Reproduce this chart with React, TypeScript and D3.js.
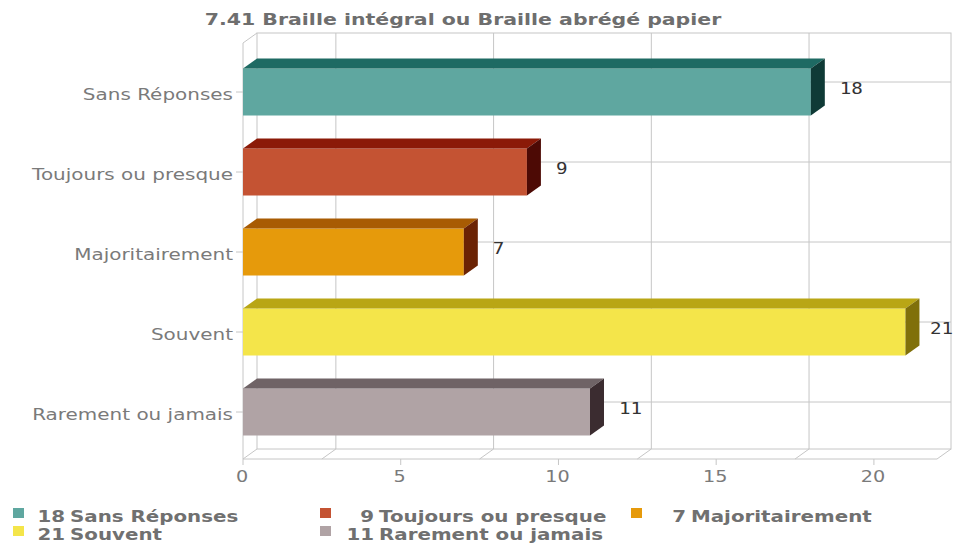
import { useEffect, useRef } from 'react';
import * as d3 from 'd3';

const title = '7.41 Braille intégral ou Braille abrégé papier';
const categories = ['Sans Réponses', 'Toujours ou presque', 'Majoritairement', 'Souvent', 'Rarement ou jamais'];
const values = [18, 9, 7, 21, 11];
const frontColors = ['#5fa7a0', '#c45333', '#e69a0b', '#f4e54a', '#b0a3a5'];
const topColors = ['#1e6a63', '#8b1a08', '#a85b03', '#b9a615', '#6f6366'];
const sideColors = ['#0f3a36', '#4d0a05', '#6b2304', '#80700a', '#3b2c30'];
const xTicks = [0, 5, 10, 15, 20];
const xGrid = [2.5, 7.5, 12.5, 17.5];

const App = () => {
  const svgRef = useRef<SVGSVGElement>(null);

  useEffect(() => {
    const svg = d3.select(svgRef.current);
    svg.selectAll('*').remove();

    const dx = 14;
    const dy = 10;
    const sx = 1.28; // text looks horizontally stretched
    const top = 43;
    const bottom = 459;
    const grid = '#c6c6c6';

    const x = d3.scaleLinear().domain([0, 22]).range([243, 937]);
    const y = d3.scaleBand<string>()
      .domain(categories)
      .range([52, 452])
      .paddingInner(0.4125)
      .paddingOuter(0.20625);
    const bw = y.bandwidth();
    const left = x(0);
    const right = x(22);

    const text = (g, px, py, str, opts) => {
      const t = g.append('text')
        .attr('transform', `translate(${px},${py}) scale(${sx},1)`)
        .attr('text-anchor', opts.anchor || 'start')
        .attr('font-family', opts.family || 'DejaVu Sans, Verdana, sans-serif')
        .attr('font-size', opts.size)
        .attr('font-weight', opts.weight || 'normal')
        .attr('fill', opts.fill)
        .style('white-space', 'pre')
        .text(str);
      return t;
    };

    // title
    text(svg, 463, 25, title, { anchor: 'middle', size: 16, weight: 'bold', fill: '#6e6e6e' });

    const g = svg.append('g');

    // back wall
    g.append('rect')
      .attr('x', left + dx).attr('y', top - dy)
      .attr('width', right - left).attr('height', bottom - top)
      .attr('fill', '#fff').attr('stroke', grid);

    g.selectAll('.vgrid').data(xGrid).join('line')
      .attr('x1', d => x(d) + dx).attr('x2', d => x(d) + dx)
      .attr('y1', top - dy).attr('y2', bottom - dy)
      .attr('stroke', grid);

    g.selectAll('.hgrid').data(categories).join('line')
      .attr('x1', left + dx).attr('x2', right + dx)
      .attr('y1', d => y(d) + bw / 2 - dy).attr('y2', d => y(d) + bw / 2 - dy)
      .attr('stroke', grid);

    // floor
    g.selectAll('.floor').data([0, ...xGrid, 22]).join('line')
      .attr('x1', d => x(d)).attr('x2', d => x(d) + dx)
      .attr('y1', bottom).attr('y2', bottom - dy)
      .attr('stroke', grid);

    g.append('line').attr('x1', left).attr('x2', right).attr('y1', bottom).attr('y2', bottom).attr('stroke', grid);
    g.append('line').attr('x1', left).attr('x2', left).attr('y1', top).attr('y2', bottom).attr('stroke', grid);
    g.append('line').attr('x1', left).attr('x2', left + dx).attr('y1', top).attr('y2', top - dy).attr('stroke', grid);

    // ticks
    g.selectAll('.ytick').data(categories).join('line')
      .attr('x1', left - 7).attr('x2', left)
      .attr('y1', d => y(d) + bw / 2).attr('y2', d => y(d) + bw / 2)
      .attr('stroke', grid);
    g.selectAll('.xtick').data(xTicks).join('line')
      .attr('x1', d => x(d)).attr('x2', d => x(d))
      .attr('y1', bottom).attr('y2', bottom + 6)
      .attr('stroke', grid);

    // bars
    categories.forEach((c, i) => {
      const y0 = y(c);
      const xe = x(values[i]);
      g.append('rect')
        .attr('x', left).attr('y', y0)
        .attr('width', xe - left).attr('height', bw)
        .attr('fill', frontColors[i]);
      g.append('polygon')
        .attr('points', [[left, y0], [left + dx, y0 - dy], [xe + dx, y0 - dy], [xe, y0]].join(' '))
        .attr('fill', topColors[i]);
      g.append('polygon')
        .attr('points', [[xe, y0], [xe + dx, y0 - dy], [xe + dx, y0 + bw - dy], [xe, y0 + bw]].join(' '))
        .attr('fill', sideColors[i]);
      // keep the label inside the picture
      const lx = Math.min(xe + dx + 15, 930);
      text(g, lx, y0 + bw / 2 + 2, String(values[i]), {
        size: 15, family: 'DejaVu Sans Mono, monospace', fill: '#333',
      });
      text(g, left - 10, y0 + bw / 2 + 7.5, c, { anchor: 'end', size: 15.6, fill: '#7a7a7a' });
    });

    xTicks.forEach(t => {
      text(g, x(t) - 1, 482, String(t), { anchor: 'middle', size: 15, fill: '#7a7a7a' });
    });

    // legend
    const colX = [13, 320, 631];
    const textX = [43, 352, 664];
    const rowY = [508, 526];
    categories.forEach((c, i) => {
      const col = i % 3;
      const row = Math.floor(i / 3);
      svg.append('rect')
        .attr('x', colX[col]).attr('y', rowY[row])
        .attr('width', 11).attr('height', 10)
        .attr('fill', frontColors[i]);
      text(svg, textX[col] + 22, rowY[row] + 14, String(values[i]), {
        anchor: 'end', size: 15.5, weight: 'bold', fill: '#707070',
      });
      text(svg, textX[col] + 27, rowY[row] + 14, c, { size: 15.5, weight: 'bold', fill: '#707070' });
    });
  }, []);

  return (
    <svg
      ref={svgRef}
      width={954}
      height={545}
      viewBox="0 0 954 545"
      style={{ position: 'absolute', left: 0, top: 0, background: '#fff' }}
    />
  );
};

export default App;
